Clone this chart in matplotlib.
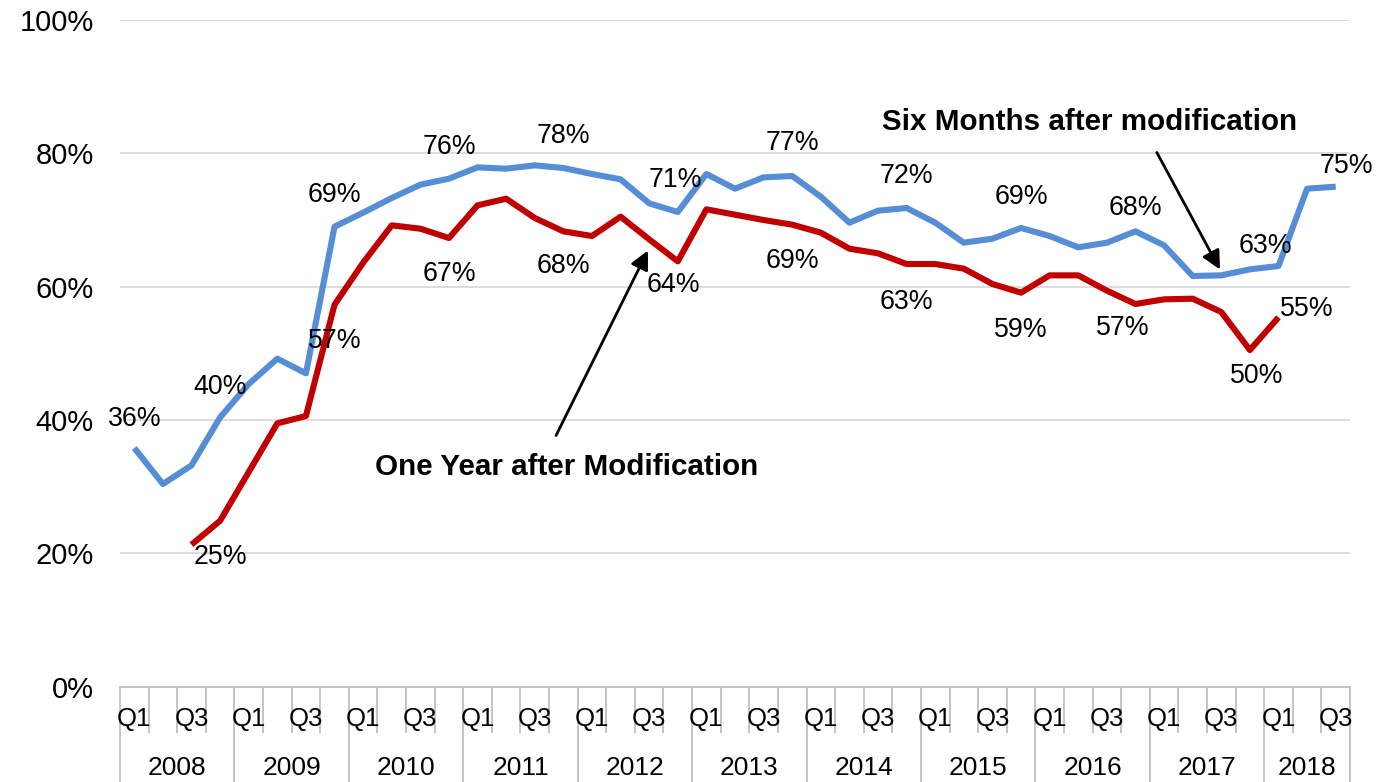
import numpy as np
import matplotlib
matplotlib.use("Agg")
import matplotlib.pyplot as plt
import matplotlib.transforms as mtransforms

plt.rcParams["font.family"] = ["Liberation Sans", "DejaVu Sans"]

# quarterly data, 2008 Q1 .. 2018 Q3
years = ["2008", "2009", "2010", "2011", "2012", "2013",
         "2014", "2015", "2016", "2017", "2018"]
quarters = ["Q1", "Q2", "Q3", "Q4"]
n_quarters = 43

six_months = [35.8, 30.4, 33.2, 40.4,
              45.4, 49.2, 47.0, 69.0,
              71.1, 73.3, 75.3, 76.2,
              77.9, 77.7, 78.2, 77.8,
              76.9, 76.1, 72.5, 71.2,
              76.9, 74.7, 76.4, 76.6,
              73.5, 69.6, 71.4, 71.8,
              69.6, 66.6, 67.2, 68.8,
              67.6, 65.9, 66.6, 68.3,
              66.2, 61.6, 61.7, 62.6,
              63.1, 74.7, 75.0]

one_year = [np.nan, np.nan, 21.3, 24.9,
            32.2, 39.5, 40.6, 57.3,
            63.6, 69.2, 68.7, 67.3,
            72.2, 73.2, 70.3, 68.3,
            67.6, 70.5, 67.1, 63.8,
            71.6, 70.8, 70.0, 69.3,
            68.1, 65.7, 65.0, 63.4,
            63.4, 62.7, 60.4, 59.1,
            61.7, 61.7, 59.4, 57.4,
            58.1, 58.2, 56.2, 50.5,
            55.4, np.nan, np.nan]

# which points carry a data label, with label offsets in points (dx, dy)
six_labels = {0: (0, 21), 3: (0, 22), 7: (0, 23), 11: (0, 23), 15: (0, 23),
              19: (-2, 23), 23: (0, 24), 27: (0, 23), 31: (0, 22),
              35: (0, 17), 39: (11, 17), 42: (8, 15)}
one_labels = {3: (0, -26), 7: (0, -26), 11: (0, -26), 15: (0, -25),
              19: (-3, -17), 23: (0, -26), 27: (0, -27), 31: (0, -27),
              35: (-9, -17), 39: (5, -19), 40: (20, 6)}

blue = "#558ED5"
red = "#C00000"

fig = plt.figure(figsize=(13.76, 7.82), dpi=100)
ax = fig.add_axes([120 / 1376, 1 - 686.7 / 782, 1230 / 1376, 666.7 / 782])

x = np.arange(n_quarters)
ax.plot(x, six_months, color=blue, lw=4.4, solid_capstyle="butt", zorder=3)
ax.plot(x, one_year, color=red, lw=4.4, solid_capstyle="butt", zorder=3)

for i, (dx, dy) in six_labels.items():
    ax.annotate(f"{six_months[i]:.0f}%", (x[i], six_months[i]), xytext=(dx, dy),
                textcoords="offset points", ha="center", va="center", fontsize=19.3)
for i, (dx, dy) in one_labels.items():
    ax.annotate(f"{one_year[i]:.0f}%", (x[i], one_year[i]), xytext=(dx, dy),
                textcoords="offset points", ha="center", va="center", fontsize=19.3)

ax.set_xlim(-0.5, n_quarters - 0.5)
ax.set_ylim(0, 100)
ax.set_yticks(np.arange(0, 101, 20))
ax.set_yticklabels([f"{v}%" for v in range(0, 101, 20)], fontsize=21)
ax.yaxis.grid(True, color="#D9D9D9", lw=1.3)
ax.set_axisbelow(True)
ax.tick_params(axis="y", length=0, pad=19)

for s in ["top", "right", "left"]:
    ax.spines[s].set_visible(False)
ax.spines["bottom"].set_color("#BFBFBF")
ax.spines["bottom"].set_linewidth(1.3)

# two-level category axis
year_edges = np.arange(-0.5, n_quarters, 4)
year_edges = np.append(year_edges, n_quarters - 0.5)
ax.set_xticks(year_edges)
ax.set_xticks(np.arange(-0.5, n_quarters, 1), minor=True)
ax.tick_params(axis="x", which="major", length=69, color="#BFBFBF", width=1.3,
               labelbottom=False)
ax.tick_params(axis="x", which="minor", length=33, color="#BFBFBF", width=1.3)

trans = mtransforms.blended_transform_factory(ax.transData, ax.transAxes)
for i in range(n_quarters):
    q = quarters[i % 4]
    if q in ("Q1", "Q3"):
        ax.text(i, -0.049, q, transform=trans, ha="center", va="center", fontsize=18.5)
for k, yr in enumerate(years):
    lo = year_edges[k]
    hi = year_edges[k + 1]
    ax.text((lo + hi) / 2, -0.122, yr, transform=trans, ha="center", va="center",
            fontsize=19)

# callouts
ax.text(15.1, 33.0, "One Year after Modification", ha="center", va="center",
        fontsize=21.3, fontweight="bold")
ax.annotate("", xy=(18.0, 65.8), xytext=(14.7, 37.3),
            arrowprops=dict(arrowstyle="-|>", color="black", lw=2, mutation_scale=28))
ax.text(33.4, 84.7, "Six Months after modification", ha="center", va="center",
        fontsize=21.3, fontweight="bold")
ax.annotate("", xy=(38.0, 62.2), xytext=(35.7, 80.5),
            arrowprops=dict(arrowstyle="-|>", color="black", lw=2, mutation_scale=28))

fig.savefig("out.png", dpi=100)
